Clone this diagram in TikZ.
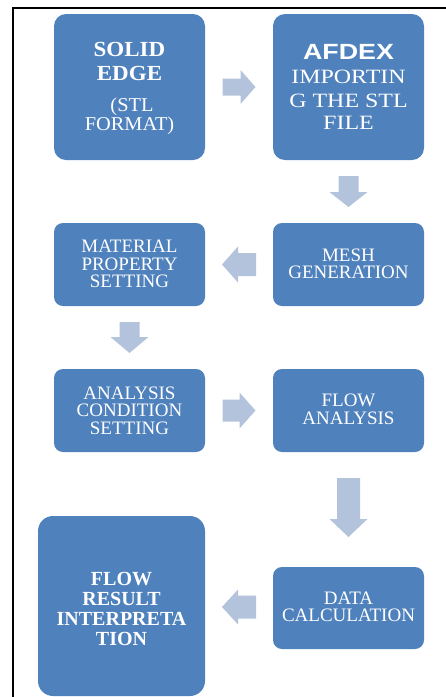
\documentclass[tikz,border=0pt]{standalone}
\usepackage{fontspec}
\setmainfont{Liberation Serif}
\newfontfamily\serifam{Liberation Serif}
\newfontfamily\serifwide{Liberation Serif}[FakeStretch=1.07]
\newfontfamily\serifreg{Liberation Serif}[FakeStretch=1.04]
\newfontfamily\serifmid{Liberation Serif}[FakeStretch=1.18]
\newfontfamily\sanswide{Liberation Sans}[FakeStretch=1.22]
\usetikzlibrary{calc}
\definecolor{boxblue}{HTML}{4F81BD}
\definecolor{arrowblue}{HTML}{B3C3DC}
% #1 centre, #2 angle, #3 length, #4 shaft width, #5 head width, #6 head length
\newcommand\blockarrow[6]{%
  \fill[arrowblue, shift={#1}, rotate=#2]
    (-#3/2,-#4/2) -- (#3/2-#6,-#4/2) -- (#3/2-#6,-#5/2) -- (#3/2,0)
    -- (#3/2-#6,#5/2) -- (#3/2-#6,#4/2) -- (-#3/2,#4/2) -- cycle;}
\tikzset{
  box/.style={fill=boxblue, inner sep=0pt,
    minimum width=151, minimum height=83, rounded corners=9},
  bigbox/.style={box, minimum height=146, rounded corners=12},
  ln/.style={text=white, inner sep=0pt, anchor=base},
  reg/.style={ln, font=\serifam\fontsize{19}{19}\selectfont},
  regbold/.style={ln, font=\serifam\bfseries\fontsize{20}{20}\selectfont},
  wbold/.style={ln, font=\serifwide\bfseries\fontsize{21.5}{21.5}\selectfont},
  wreg/.style={ln, font=\serifreg\fontsize{19.6}{19.6}\selectfont},
  mreg/.style={ln, font=\serifmid\fontsize{20.3}{20.3}\selectfont},
  afdex/.style={ln, font=\sanswide\bfseries\fontsize{22}{22}\selectfont},
  frame/.style={line width=1.8, black}
}
\begin{document}
\begin{tikzpicture}[x=1pt, y=-1pt]
\useasboundingbox (0,0) rectangle (446,697);
\coordinate (fbl) at (13.3,697);
\coordinate (ftl) at (13.3,7.7);
\coordinate (ftr) at (446,7.7);
\draw[frame] (fbl) -- (ftl) -- (ftr);

% boxes
\node[bigbox] (b1) at (129.5,87) {};
\node[bigbox] (b2) at (348.5,87) {};
\node[box] (b3) at (129.5,264.5) {};
\node[box] (b4) at (348.5,264.5) {};
\node[box] (b5) at (129.5,410.5) {};
\node[box] (b6) at (348.5,410.5) {};
\node[box, minimum height=82] (b7) at (348.5,608) {};
\node[box, minimum width=167, minimum height=180, rounded corners=15] (b8) at (121.5,606) {};

% texts
\node[wbold] (t1a) at (129.5,56.2) {SOLID};
\node[wbold] (t1b) at (129.5,80) {EDGE};
\node[wreg]  (t1c) at (132,111.5) {(STL};
\node[wreg]  (t1d) at (129.5,130) {FORMAT)};

\node[afdex] (t2a) at (348.5,59) {AFDEX};
\node[mreg]  (t2b) at (348.5,83.3) {IMPORTIN};
\node[mreg]  (t2c) at (348.5,107) {G THE STL};
\node[mreg]  (t2d) at (348.5,129.5) {FILE};

\node[reg] (t3a) at (129.5,252.3) {MATERIAL};
\node[reg] (t3b) at (129.5,270) {PROPERTY};
\node[reg] (t3c) at (129.5,287.3) {SETTING};

\node[reg] (t4a) at (348.5,261) {MESH};
\node[reg] (t4b) at (348.5,278.3) {GENERATION};

\node[reg] (t5a) at (129.5,399) {ANALYSIS};
\node[reg] (t5b) at (129.5,416.7) {CONDITION};
\node[reg] (t5c) at (129.5,434.3) {SETTING};

\node[reg] (t6a) at (348.5,406.7) {FLOW};
\node[reg] (t6b) at (348.5,424.3) {ANALYSIS};

\node[reg] (t7a) at (348.5,604.3) {DATA};
\node[reg] (t7b) at (348.5,621.7) {CALCULATION};

\node[regbold] (t8a) at (121.5,585) {FLOW};
\node[regbold] (t8b) at (121.5,605) {RESULT};
\node[regbold] (t8c) at (121.5,625.7) {INTERPRETA};
\node[regbold] (t8d) at (121.5,645) {TION};

% block arrows
\blockarrow{($(b1.east)!0.5!(b2.west)$)}{0}{33}{17}{34}{15}
\blockarrow{($(b2.south)!0.5!(b4.north)$)}{-90}{31}{20}{38}{15}
\blockarrow{($(b4.west)!0.5!(b3.east)$)}{180}{34}{23}{36}{16}
\blockarrow{($(b3.south)!0.5!(b5.north)$)}{-90}{31}{20}{38}{16}
\blockarrow{($(b5.east)!0.5!(b6.west)$)}{0}{33}{22}{36}{16}
\blockarrow{($(b6.south)!0.5!(b7.north)+(0,-2)$)}{-90}{59}{23}{38}{18}
\blockarrow{($(b7.west)!0.5!(b8.east)$)}{180}{34}{23}{35}{16}
\end{tikzpicture}
\end{document}
